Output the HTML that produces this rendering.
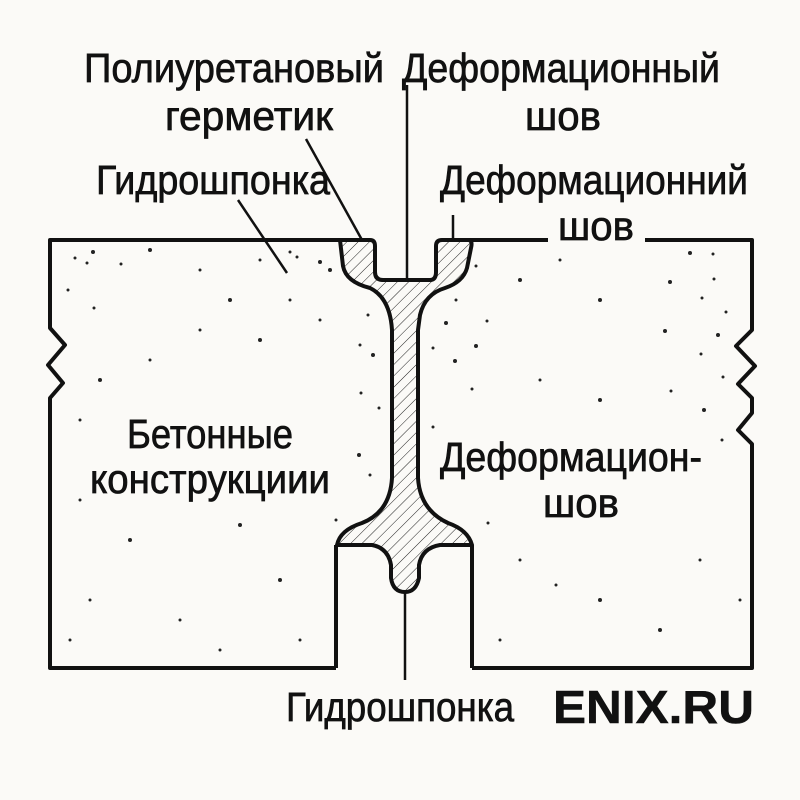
<!DOCTYPE html>
<html><head><meta charset="utf-8"><style>html,body{margin:0;padding:0;background:#fbfaf7}svg{display:block}</style></head>
<body>
<svg width="800" height="800" viewBox="0 0 800 800" xmlns="http://www.w3.org/2000/svg">
<defs>
<pattern id="h" width="8" height="8" patternUnits="userSpaceOnUse" patternTransform="rotate(45)">
<line x1="0" y1="0" x2="0" y2="8" stroke="#222" stroke-width="1"/>
</pattern>
</defs>
<rect width="800" height="800" fill="#fbfaf7"/>
<g fill="none" stroke="#111" stroke-width="4" stroke-linejoin="round">
<path d="M336,668 L336,545 M336,668 L50,668 L50,398 L63,383 L48,365 L65,345 L50,328 L50,240 L342,240"/>
<path d="M472,668 L472,545 M472,668 L752,668 L752,444 L738,430 L752,413 L752,398 L738,384 L755,366 L736,346 L752,330 L752,240 L645,240 M548,240 L468,240"/>
</g>
<path d="M340,240 L370,240 Q375,240 375,246 L375,272 Q375,280 383,280 L430,280 Q436,280 436,272 L436,246 Q436,240 442,240 L468,240 Q473,240 471,248 L467,268 Q463,282 445,288 Q425,294 420,315 L418,330 L418,478 Q420,510 448,523 Q468,530 472,545 L440,545 Q422,548 419,565 L419,578 Q416,592 405,592 Q393,592 391,578 L391,565 Q388,548 372,545 L337,545 Q340,530 362,523 Q390,512 392,478 L392,330 Q390,298 370,288 Q346,282 343,266 Z" fill="url(#h)" stroke="#111" stroke-width="4" stroke-linejoin="round"/>
<g stroke="#111" stroke-width="2.5">
<line x1="306" y1="139" x2="362" y2="240"/>
<line x1="238" y1="200" x2="287" y2="273"/>
<line x1="407" y1="85" x2="407" y2="280"/>
<line x1="453" y1="215" x2="453" y2="240"/>
<line x1="405" y1="592" x2="405" y2="680"/>
</g>
<g fill="#222">
<circle cx="75" cy="258" r="1.5"/><circle cx="93" cy="252" r="2"/><circle cx="87" cy="263" r="1.5"/><circle cx="68" cy="290" r="1.5"/><circle cx="94" cy="308" r="1.5"/><circle cx="121" cy="264" r="1.5"/><circle cx="150" cy="250" r="2"/><circle cx="200" cy="270" r="1.5"/><circle cx="230" cy="300" r="2"/><circle cx="260" cy="260" r="1.5"/><circle cx="290" cy="300" r="1.5"/><circle cx="330" cy="270" r="2"/><circle cx="290" cy="252" r="1.5"/><circle cx="297" cy="257" r="1.5"/><circle cx="320" cy="262" r="2"/><circle cx="80" cy="420" r="1.5"/><circle cx="100" cy="380" r="2"/><circle cx="150" cy="360" r="1.5"/><circle cx="200" cy="330" r="1.5"/><circle cx="260" cy="340" r="2"/><circle cx="320" cy="320" r="1.5"/><circle cx="368" cy="315" r="1.5"/><circle cx="373" cy="355" r="2"/><circle cx="360" cy="345" r="1.5"/><circle cx="361" cy="393" r="1.5"/><circle cx="379" cy="408" r="1.5"/><circle cx="359" cy="455" r="2"/><circle cx="370" cy="475" r="1.5"/><circle cx="336" cy="520" r="1.5"/><circle cx="80" cy="500" r="1.5"/><circle cx="130" cy="540" r="2"/><circle cx="240" cy="525" r="2"/><circle cx="90" cy="600" r="1.5"/><circle cx="180" cy="620" r="1.5"/><circle cx="280" cy="580" r="2"/><circle cx="220" cy="650" r="1.5"/><circle cx="70" cy="640" r="1.5"/><circle cx="300" cy="640" r="1.5"/>
<circle cx="476" cy="266" r="1.5"/><circle cx="487" cy="321" r="1.5"/><circle cx="476" cy="346" r="2"/><circle cx="456" cy="300" r="1.5"/><circle cx="446" cy="323" r="2"/><circle cx="433" cy="348" r="1.5"/><circle cx="455" cy="361" r="2"/><circle cx="472" cy="389" r="1.5"/><circle cx="433" cy="427" r="1.5"/><circle cx="488" cy="523" r="1.5"/><circle cx="520" cy="280" r="2"/><circle cx="560" cy="260" r="1.5"/><circle cx="600" cy="300" r="2"/><circle cx="690" cy="253" r="2"/><circle cx="713" cy="254" r="1.5"/><circle cx="714" cy="279" r="1.5"/><circle cx="670" cy="282" r="2"/><circle cx="702" cy="298" r="1.5"/><circle cx="726" cy="312" r="1.5"/><circle cx="665" cy="331" r="2"/><circle cx="718" cy="335" r="2"/><circle cx="701" cy="354" r="1.5"/><circle cx="723" cy="377" r="1.5"/><circle cx="671" cy="391" r="1.5"/><circle cx="704" cy="410" r="2"/><circle cx="722" cy="440" r="1.5"/><circle cx="540" cy="380" r="1.5"/><circle cx="600" cy="400" r="2"/><circle cx="520" cy="560" r="1.5"/><circle cx="600" cy="600" r="2"/><circle cx="700" cy="560" r="1.5"/><circle cx="500" cy="640" r="1.5"/><circle cx="660" cy="630" r="2"/><circle cx="740" cy="600" r="1.5"/><circle cx="556" cy="585" r="1.5"/>
</g>
<g font-family="Liberation Sans, sans-serif" font-size="41" fill="#111" stroke="#111" stroke-width="0.7">
<text x="84" y="82" textLength="300" lengthAdjust="spacingAndGlyphs">Полиуретановый</text>
<text x="165" y="130" textLength="168" lengthAdjust="spacingAndGlyphs">герметик</text>
<text x="402" y="82" textLength="318" lengthAdjust="spacingAndGlyphs">Деформационный</text>
<text x="525" y="130" textLength="76" lengthAdjust="spacingAndGlyphs">шов</text>
<text x="96" y="194" textLength="234" lengthAdjust="spacingAndGlyphs">Гидрошпонка</text>
<text x="440" y="194" textLength="308" lengthAdjust="spacingAndGlyphs">Деформационний</text>
<text x="558" y="240" textLength="76" lengthAdjust="spacingAndGlyphs">шов</text>
<text x="127" y="448" textLength="166" lengthAdjust="spacingAndGlyphs">Бетонные</text>
<text x="90" y="493" textLength="240" lengthAdjust="spacingAndGlyphs">конструкциии</text>
<text x="440" y="471" textLength="262" lengthAdjust="spacingAndGlyphs">Деформацион-</text>
<text x="543" y="517" textLength="76" lengthAdjust="spacingAndGlyphs">шов</text>
<text x="286" y="721" textLength="228" lengthAdjust="spacingAndGlyphs">Гидрошпонка</text>
<text x="553" y="723" font-weight="bold" font-size="46" stroke-width="0.5" textLength="201" lengthAdjust="spacingAndGlyphs">ENIX.RU</text>
</g>
</svg>
</body></html>
